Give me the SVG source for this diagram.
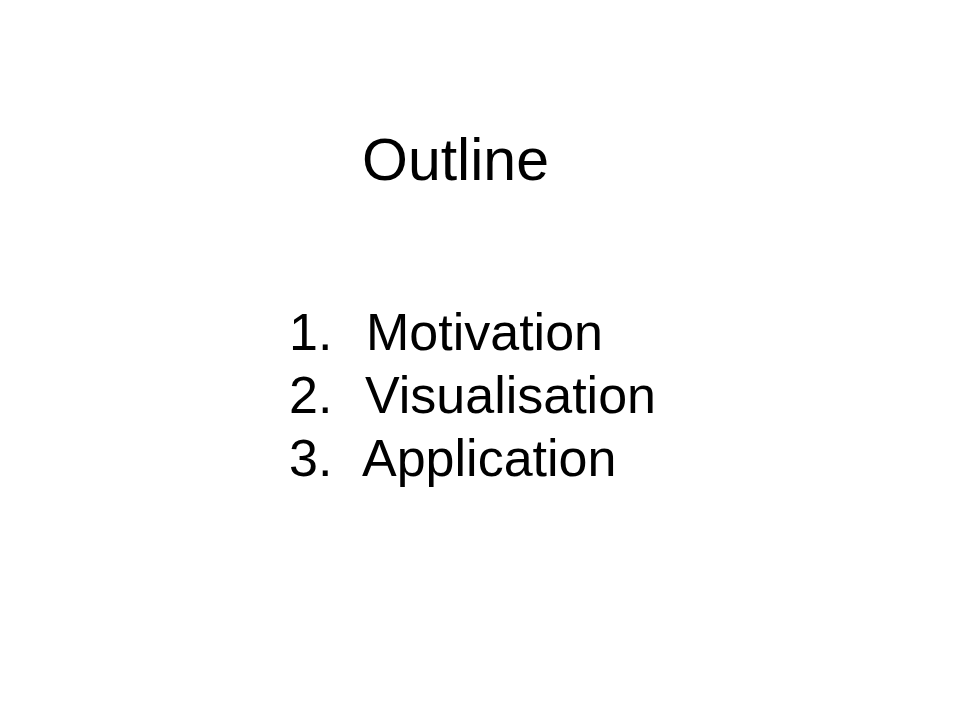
<svg xmlns="http://www.w3.org/2000/svg" width="960" height="720" viewBox="0 0 960 720">
<style>
text{font-family:"Liberation Sans",Arial,sans-serif;fill:#000}
.t{font-size:59px}
.l{font-size:52px}
</style>
<rect width="960" height="720" fill="#fff"/>
<g id="title"><text class="t" x="362" y="180">Outline</text></g>
<g id="list">
<text class="l" x="289" y="350">1.</text><text class="l" x="366" y="350">Motivation</text>
<text class="l" x="289" y="413">2.</text><text class="l" x="365" y="413">Visualisation</text>
<text class="l" x="289" y="476">3.</text><text class="l" x="362" y="476">Application</text>
</g>
</svg>
